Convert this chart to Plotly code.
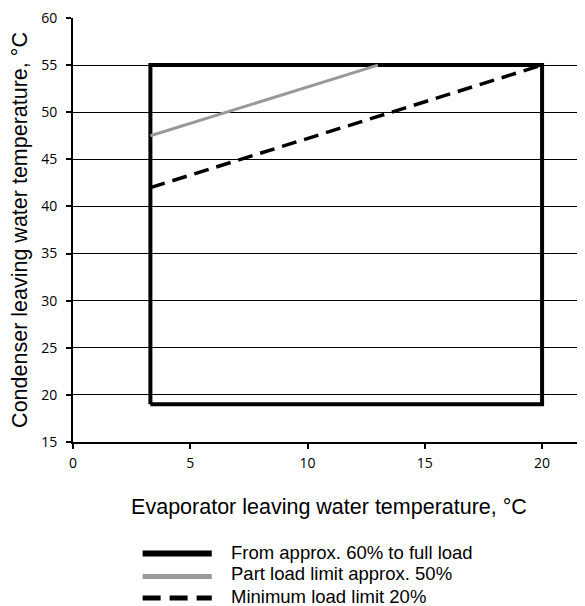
import plotly.graph_objects as go

# Data
box_x = [3.3, 20, 20, 3.3, 3.3]
box_y = [19, 19, 55, 55, 19]
part_x = [3.3, 13]
part_y = [47.5, 55]
min_x = [3.3, 20]
min_y = [42, 55]
x_ticks = [0, 5, 10, 15, 20]
y_ticks = [15, 20, 25, 30, 35, 40, 45, 50, 55, 60]
series_names = ["From approx. 60% to full load", "Part load limit approx. 50%", "Minimum load limit 20%"]

styles = [dict(color="black", width=4),
          dict(color="#999999", width=3),
          dict(color="black", width=3.5, dash="15px,8px")]
key_styles = [dict(color="black", width=6),
              dict(color="#999999", width=5),
              dict(color="black", width=5, dash="18px,9px")]

fig = go.Figure()
for (xs, ys), name, st in zip([(box_x, box_y), (part_x, part_y), (min_x, min_y)], series_names, styles):
    fig.add_trace(go.Scatter(x=xs, y=ys, mode="lines", name=name, line=st, showlegend=False))

# custom legend (paper coordinates)
key_x0, key_x1, text_x = 0.136, 0.271, 0.305
key_ys = [-0.263, -0.317, -0.368]
text_ys = [-0.260, -0.311, -0.364]
for name, ks, ky, ty in zip(series_names, key_styles, key_ys, text_ys):
    fig.add_shape(type="line", xref="paper", yref="paper", x0=key_x0, x1=key_x1, y0=ky, y1=ky, line=ks)
    fig.add_annotation(xref="paper", yref="paper", x=text_x, y=ty, text=name, showarrow=False,
                       xanchor="left", yanchor="middle",
                       font=dict(family="Liberation Sans, Arial, sans-serif", size=18.5, color="black"))

tickfont = dict(family="Open Sans, sans-serif", size=14, color="black")
titlefont = dict(family="Liberation Sans, Arial, sans-serif", size=21.5, color="black")

fig.update_layout(
    width=577, height=598,
    margin=dict(l=65, r=0, t=10, b=164),
    plot_bgcolor="white", paper_bgcolor="white",
    showlegend=False,
    xaxis=dict(range=[0, 21.83], tickvals=x_ticks, ticks="outside", ticklen=5, tickwidth=1.5,
               tickcolor="black", showline=True, linecolor="black", linewidth=2,
               showgrid=False, zeroline=False, tickfont=tickfont, ticklabelstandoff=2,
               ticklabeloverflow="allow",
               title=dict(text="Evaporator leaving water temperature, °C", font=titlefont, standoff=28)),
    yaxis=dict(range=[15, 60], tickvals=y_ticks, ticks="outside", ticklen=5, tickwidth=1.5,
               tickcolor="black", showline=True, linecolor="black", linewidth=2,
               showgrid=True, gridcolor="black", gridwidth=1, zeroline=False, tickfont=tickfont,
               ticklabelstandoff=6, ticklabeloverflow="allow",
               title=dict(text="Condenser leaving water temperature, °C", font=titlefont, standoff=12)),
)

fig.write_html("out.html")
